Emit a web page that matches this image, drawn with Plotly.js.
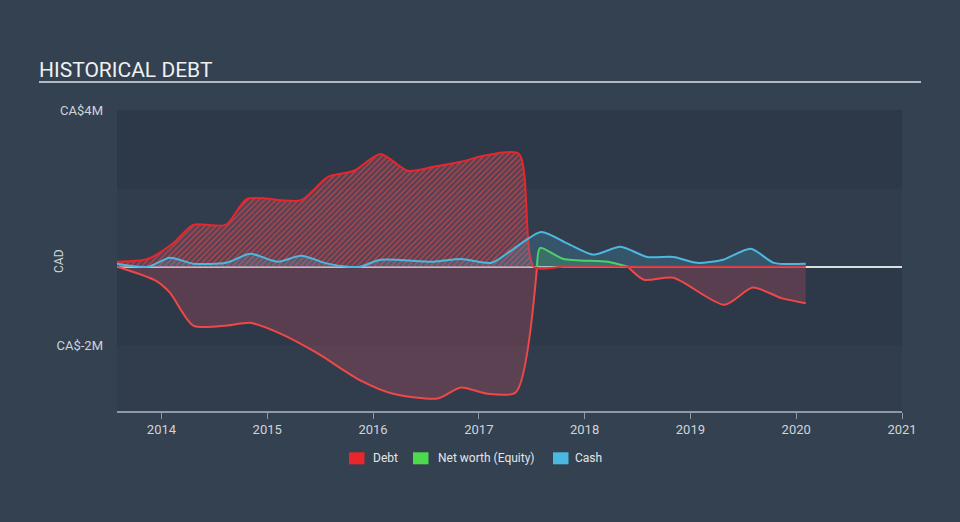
<!DOCTYPE html>
<html>
<head>
<meta charset="utf-8">
<script src="https://cdn.plot.ly/plotly-3.0.1.min.js"></script>
<style>
  html, body { margin: 0; padding: 0; background: #344150; }
  #chart { width: 960px; height: 522px; }
</style>
</head>
<body>
<div id="chart"></div>
<script>
// ---- data (values in CA$ millions, x in decimal years) ----
const debtYears = [2013.58, 2013.87, 2014.11, 2014.30, 2014.61, 2014.81, 2015.32, 2015.57, 2015.82, 2016.07, 2016.33, 2016.57, 2016.83, 2017.08, 2017.38, 2017.52, 2017.80, 2018.50, 2019.50, 2020.09];
const debtValues = [0.13, 0.20, 0.60, 1.07, 1.07, 1.73, 1.70, 2.29, 2.45, 2.88, 2.45, 2.55, 2.68, 2.85, 2.88, 0.00, 0.00, 0.00, 0.00, 0.00];

const equityYears = [2013.58, 2013.95, 2014.08, 2014.30, 2014.62, 2014.84, 2015.12, 2015.47, 2015.88, 2016.19, 2016.61, 2016.83, 2017.08, 2017.35, 2017.58, 2017.80, 2018.22, 2018.41, 2018.56, 2018.84, 2019.32, 2019.59, 2019.86, 2020.09];
const equityValues = [0.00, -0.36, -0.66, -1.50, -1.50, -1.43, -1.70, -2.20, -2.90, -3.24, -3.36, -3.08, -3.24, -3.20, 0.48, 0.20, 0.13, 0.00, -0.33, -0.28, -0.97, -0.53, -0.80, -0.93];

const cashYears = [2013.58, 2013.87, 2014.08, 2014.30, 2014.61, 2014.84, 2015.10, 2015.32, 2015.57, 2015.76, 2015.88, 2016.07, 2016.57, 2016.83, 2017.12, 2017.33, 2017.59, 2017.84, 2018.08, 2018.34, 2018.59, 2018.84, 2019.06, 2019.31, 2019.57, 2019.79, 2020.09];
const cashValues = [0.08, 0.00, 0.23, 0.08, 0.10, 0.33, 0.13, 0.28, 0.08, 0.00, 0.00, 0.18, 0.13, 0.20, 0.10, 0.46, 0.89, 0.59, 0.31, 0.51, 0.25, 0.25, 0.10, 0.18, 0.46, 0.10, 0.08];

const xTickYears = [2014, 2015, 2016, 2017, 2018, 2019, 2020, 2021];
const yTickValues = [4, -2];
const yTickLabels = ['CA$4M', 'CA$-2M'];
const legendLabels = ['Debt', 'Net worth (Equity)', 'Cash'];

// ---- colours ----
const RED = '#e8262c';
const RED_NEG = '#f04848';
const GREEN = '#4dd84d';
const BLUE = '#4cb8df';

// split equity into positive / negative pieces with zero crossings
function splitSeries(xs, vs, positive) {
  const ox = [], oy = [];
  const ok = v => positive ? v >= 0 : v <= 0;
  for (let i = 0; i < xs.length; i++) {
    const v = vs[i];
    if (i > 0) {
      const pv = vs[i - 1];
      if ((pv < 0 && v > 0) || (pv > 0 && v < 0)) {
        const xc = xs[i - 1] + (xs[i] - xs[i - 1]) * (0 - pv) / (v - pv);
        if (ok(v)) { ox.push(xc); oy.push(0); }
        else { ox.push(xc); oy.push(0); ox.push(xc); oy.push(null); }
      }
    }
    if (ok(v)) { ox.push(xs[i]); oy.push(v); }
  }
  return { x: ox, y: oy };
}
function trimZeroRuns(s) {
  const x = [], y = [];
  for (let i = 0; i < s.x.length; i++) {
    const v = s.y[i];
    const prev = i > 0 ? s.y[i - 1] : null;
    const next = i < s.x.length - 1 ? s.y[i + 1] : null;
    if (v === 0 && (prev === null || prev === 0) && (next === null || next === 0)) { x.push(s.x[i]); y.push(null); continue; }
    x.push(s.x[i]); y.push(v);
  }
  return { x, y };
}
const eqNeg = splitSeries(equityYears, equityValues, false);
const eqPos = trimZeroRuns(splitSeries(equityYears, equityValues, true));

const SM = 0.7;
const traces = [
  {
    x: eqNeg.x, y: eqNeg.y, type: 'scatter', mode: 'lines',
    line: { color: RED_NEG, width: 2, shape: 'spline', smoothing: SM },
    fill: 'tozeroy', fillcolor: 'rgba(200,75,95,0.28)', connectgaps: false,
    hoverinfo: 'skip', showlegend: false
  },
  {
    x: eqPos.x, y: eqPos.y, type: 'scatter', mode: 'lines',
    line: { color: GREEN, width: 2, shape: 'spline', smoothing: SM },
    fill: 'tozeroy', fillcolor: 'rgba(77,216,77,0.22)', connectgaps: false,
    hoverinfo: 'skip', showlegend: false
  },
  {
    x: debtYears, y: debtValues, type: 'scatter', mode: 'lines',
    line: { color: RED, width: 2, shape: 'spline', smoothing: SM },
    fill: 'tozeroy', fillcolor: 'rgba(150,60,75,0.35)',
    fillpattern: { shape: '/', fgcolor: 'rgba(205,65,72,0.75)', bgcolor: 'rgba(100,72,92,0.55)', size: 4, solidity: 0.45 },
    hoverinfo: 'skip', showlegend: false
  },
  {
    x: cashYears, y: cashValues, type: 'scatter', mode: 'lines',
    line: { color: BLUE, width: 2, shape: 'spline', smoothing: SM },
    fill: 'tozeroy', fillcolor: 'rgba(76,184,223,0.20)',
    hoverinfo: 'skip', showlegend: false
  }
];

// pixel -> paper helpers (plot area: x 117..902, y 110..411)
const L = 117, R = 902, T = 110, B = 411;
const px = v => (v - L) / (R - L);
const py = v => (B - v) / (B - T);

const shapes = [
  { type: 'rect', xref: 'paper', yref: 'y', x0: 0, x1: 1, y0: 2, y1: 4, fillcolor: '#2d3948', line: { width: 0 }, layer: 'below' },
  { type: 'rect', xref: 'paper', yref: 'y', x0: 0, x1: 1, y0: -2, y1: 0, fillcolor: '#2d3948', line: { width: 0 }, layer: 'below' },
  { type: 'line', xref: 'paper', yref: 'paper', x0: px(39), x1: px(921), y0: py(82), y1: py(82), line: { color: '#b4bac2', width: 2 } }
];

const legendColors = [RED, GREEN, BLUE];
const legendSq = [349, 413, 553];
const legendTx = [371, 436, 573];
const annotations = [
  { xref: 'paper', yref: 'paper', x: px(59), y: py(261), text: 'CAD', textangle: -90, showarrow: false,
    xanchor: 'center', yanchor: 'middle',
    font: { family: 'Roboto, sans-serif', size: 12, color: '#d0d4d9' } }
];
for (let i = 0; i < legendLabels.length; i++) {
  shapes.push({ type: 'rect', xref: 'paper', yref: 'paper', x0: px(legendSq[i]), x1: px(legendSq[i] + 15.5), y0: py(452.3), y1: py(464.3),
    fillcolor: legendColors[i], line: { width: 0 } });
  annotations.push({ xref: 'paper', yref: 'paper', x: px(legendTx[i]), y: py(458), xanchor: 'left', yanchor: 'middle',
    text: legendLabels[i], showarrow: false, font: { family: 'Roboto, sans-serif', size: 12, color: '#e2e5e8' } });
}

const layout = {
  width: 960, height: 522,
  paper_bgcolor: '#344150',
  plot_bgcolor: '#313d4d',
  margin: { l: L, r: 960 - R, t: T, b: 522 - B },
  title: {
    text: 'HISTORICAL DEBT', x: 39 / 960, xanchor: 'left', y: 1 - 70 / 522, yanchor: 'middle',
    font: { family: 'Roboto, sans-serif', size: 21, color: '#eef0f2' }
  },
  xaxis: {
    range: [2013.58, 2021.0], tickvals: xTickYears, ticktext: xTickYears.map(String),
    showgrid: false, zeroline: false, showline: true, linecolor: '#8e98a6', linewidth: 1.5,
    ticks: 'outside', ticklen: 6, tickcolor: '#8e98a6', tickwidth: 1,
    tickfont: { family: 'Roboto, sans-serif', size: 13, color: '#d0d4d9' }, fixedrange: true
  },
  yaxis: {
    range: [-3.68, 4.0], tickvals: yTickValues, ticktext: yTickLabels,
    showgrid: false, zeroline: true, zerolinecolor: '#d9dde2', zerolinewidth: 1.5,
    showline: false, ticks: '', ticklabelstandoff: 13,
    tickfont: { family: 'Roboto, sans-serif', size: 13, color: '#d0d4d9' }, fixedrange: true
  },
  shapes: shapes,
  annotations: annotations,
  showlegend: false
};

Plotly.newPlot('chart', traces, layout, { displayModeBar: false, staticPlot: true });
</script>
</body>
</html>
